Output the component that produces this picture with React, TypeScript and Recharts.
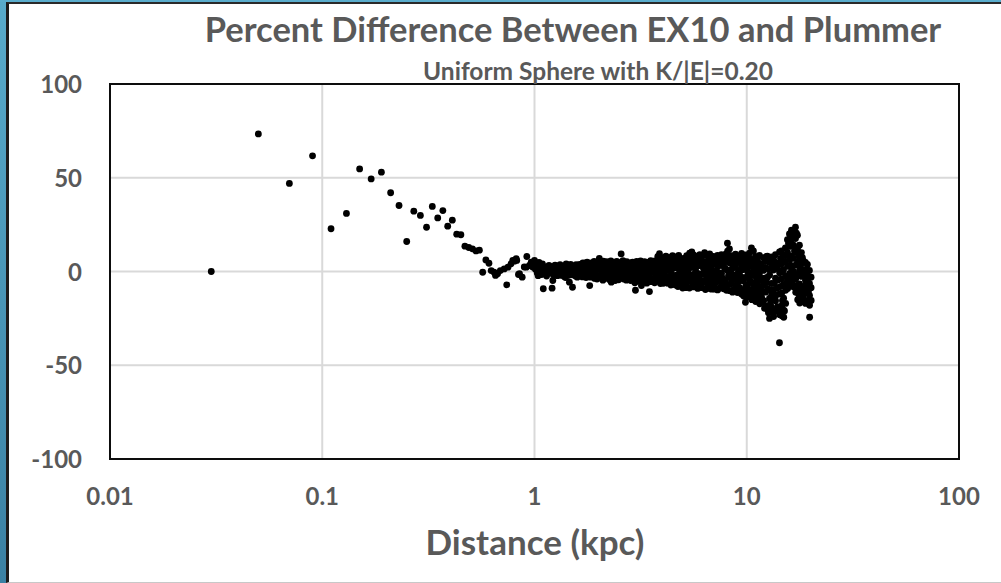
import React from 'react';
import {
  ScatterChart,
  Scatter,
  XAxis,
  YAxis,
  CartesianGrid,
  ReferenceArea,
} from 'recharts';

// distance (kpc), percent difference
const coreDots: [number, number][] = [
  [0.03, 0], [0.05, 73.4], [0.07, 47], [0.09, 61.7], [0.11, 22.8], [0.13, 31],
  [0.15, 54.7], [0.17, 49.4], [0.19, 53], [0.21, 42], [0.23, 35.2], [0.25, 16],
  [0.27, 32.2], [0.29, 29.9], [0.31, 23.6], [0.33, 34.7], [0.35, 28.6], [0.37, 32.5],
  [0.39, 24.2], [0.41, 27.4], [0.43, 19.9], [0.45, 19.6], [0.47, 13.5], [0.49, 12.8],
  [0.51, 12.1], [0.53, 11], [0.55, 11.4], [0.57, -0.4], [0.59, 6.2], [0.61, 4.4],
];

const transitionDots: [number, number][] = [
  [0.625, 0.5], [0.645, -0.4], [0.655, -2.1], [0.67, -1.2], [0.69, 0.5], [0.72, 1.4],
  [0.74, -7.1], [0.75, 2.3], [0.775, 4.1], [0.79, 5.9], [0.805, 5.5], [0.82, 6.8],
  [0.825, 5.9], [0.84, -1.6], [0.85, -1.2], [0.875, -3], [0.895, 2.4], [0.915, 2.3],
  [0.92, 8], [0.947, 3.2], [0.965, 5], [0.98, 2.4], [1.0, 5.9],
];

const innerBand: [number, number][] = [
  [1.01, 1.2], [1.03, -0.8], [1.05, 4.9], [1.07, 0.5], [1.09, 4.1], [1.1, -9.2],
  [1.12, -0.4], [1.13, 2.4], [1.15, 1.0], [1.17, 3.2], [1.19, -0.9], [1.21, -8.9],
  [1.22, -4.8], [1.24, 1.6], [1.26, -0.6], [1.27, 0.5], [1.29, 2.8], [1.31, -0.4],
  [1.33, -2.0], [1.35, 1.5], [1.36, -1.2], [1.38, -2.6], [1.41, 4.1], [1.42, 0.9],
  [1.44, 0.5], [1.46, -5.7], [1.47, 2.2], [1.49, -0.4], [1.51, -8.4], [1.52, -1.8],
  [1.54, 0.5], [1.56, -2.4], [1.58, 1.3], [1.6, 2.3], [1.62, -1.5], [1.64, 0.2],
  [1.66, 3.2], [1.68, -2.9], [1.7, 1.9], [1.72, 4.4], [1.74, -0.8], [1.76, 1.2],
  [1.78, 3.2], [1.8, -1.9], [1.82, -7.5], [1.84, 0.5], [1.86, 2.6], [1.88, -1.1],
  [1.9, 3.5], [1.92, -3.7], [1.94, 4.1], [1.96, 0.8], [1.98, -2.3], [2.0, 2.9],
  [1.02, 3.0], [1.04, -2.2], [1.06, 2.0], [1.08, -1.6], [1.11, 1.8], [1.14, -2.4],
  [1.16, -0.2], [1.18, 1.4], [1.2, 2.6], [1.23, -1.8], [1.25, 3.4], [1.28, -2.2],
  [1.3, 1.0], [1.32, 3.6], [1.34, -0.2], [1.37, 2.6], [1.39, 0.2], [1.4, -3.2],
  [1.43, 2.6], [1.45, -2.0], [1.48, 3.8], [1.5, 1.2], [1.53, 2.8], [1.55, -0.8],
  [1.57, 3.6], [1.59, -3.0], [1.61, 0.8], [1.63, 3.8], [1.65, -1.0], [1.67, 1.4],
  [1.69, 4.6], [1.71, -1.8], [1.73, 2.2], [1.75, -3.2], [1.77, 5.0], [1.79, 0.4],
  [1.81, 2.4], [1.83, -3.0], [1.85, 4.6], [1.87, -0.4], [1.89, 1.6], [1.91, 5.4],
  [1.93, -1.6], [1.95, 2.2], [1.97, -4.0], [1.99, 5.0],
];

const midBand: [number, number][] = [
  [2.02, 7.0], [2.03, 1.5], [2.04, -2.0], [2.07, 3.0], [2.08, -1.5], [2.11, 5.5],
  [2.12, 0.2], [2.16, -3.5], [2.17, 2.4], [2.21, 1.0], [2.22, 4.2], [2.26, -1.2],
  [2.3, -5.7], [2.31, 3.3], [2.32, 0.6], [2.36, -2.5], [2.37, 2.0], [2.41, 4.0],
  [2.42, -0.8], [2.46, 1.4], [2.47, -3.6], [2.51, 2.8], [2.56, 9.4], [2.57, -1.0],
  [2.58, 3.0], [2.62, 0.5], [2.63, -4.0], [2.68, 2.5], [2.69, -2.0], [2.74, 3.0],
  [2.75, 0.0], [2.8, -3.0], [2.81, 1.8], [2.86, 2.6], [2.87, -1.5], [2.93, 0.4],
  [2.99, -10.0], [3.0, 3.0], [3.01, -4.4], [3.06, 1.2], [3.07, -2.5], [3.12, 2.9],
  [3.13, 0.0], [3.19, -7.5], [3.2, -3.8], [3.21, 1.8], [3.26, 3.1], [3.27, -1.0],
  [3.33, 0.6], [3.34, -4.2], [3.41, 2.8], [3.42, -1.8], [3.48, -10.7], [3.49, 1.3],
  [3.5, -3.0], [3.56, 3.0], [3.57, -0.5], [3.64, -4.5], [3.65, 1.8], [3.72, 2.5],
  [3.73, -2.6], [3.8, -0.6], [3.81, 8.0], [3.88, 9.5], [3.89, 3.2], [3.97, -4.6],
  [3.98, 5.6], [3.99, 0.8], [4.05, -6.3], [4.06, 2.0], [4.07, 7.5], [4.14, -3.0],
  [4.15, 4.2], [4.16, 8.2],
  [2.05, 4.4], [2.06, -3.4], [2.09, 0.8], [2.1, -4.6], [2.14, 2.2], [2.15, -1.4],
  [2.19, 5.2], [2.2, -2.8], [2.24, 2.6], [2.25, -4.2], [2.28, 0.2], [2.29, 5.6],
  [2.34, -3.6], [2.35, 4.8], [2.39, 0.6], [2.4, -4.8], [2.44, 5.4], [2.45, -1.8],
  [2.49, -4.4], [2.5, 0.4], [2.54, 4.8], [2.55, -2.6], [2.6, 1.8], [2.61, 5.8],
  [2.65, -1.0], [2.66, 3.6], [2.71, -4.6], [2.72, 5.2], [2.77, 1.6], [2.78, -2.4],
  [2.83, 4.6], [2.84, -4.8], [2.9, 5.0], [2.91, -2.2], [2.96, 1.8], [2.97, -6.0],
  [3.03, 5.4], [3.04, -0.8], [3.09, 4.4], [3.1, -5.2], [3.16, 5.6], [3.17, -0.8],
  [3.23, -5.6], [3.24, 0.4], [3.3, 5.2], [3.31, -2.6], [3.37, 4.4], [3.38, -6.2],
  [3.45, 5.0], [3.46, -0.2], [3.53, 5.8], [3.54, -5.4], [3.6, 0.2], [3.61, 4.8],
  [3.68, -6.0], [3.69, 5.6], [3.76, 0.6], [3.77, -5.0], [3.84, 4.8], [3.85, -2.4],
  [3.92, -6.4], [3.93, 1.6], [4.01, 4.2], [4.02, -2.2], [4.1, 0.2], [4.11, 5.2],
  [4.19, -6.0], [4.2, 2.6],
];

const outerBand: [number, number][] = [
  [4.23, 6.4], [4.24, 0.5], [4.25, -6.2], [4.33, 3.0], [4.34, -3.5], [4.35, 7.5],
  [4.42, -1.2], [4.43, 5.0], [4.44, -6.8], [4.52, 1.8], [4.53, -4.0], [4.54, 6.6],
  [4.62, -7.2], [4.63, 2.4], [4.64, 7.8], [4.72, 4.0], [4.73, -2.2], [4.74, -8.0],
  [4.82, 6.8], [4.83, 0.0], [4.84, -5.3], [4.93, -3.0], [4.94, 3.6], [4.95, -7.8],
  [5.03, 7.0], [5.04, -0.8], [5.05, -6.0], [5.14, 2.5], [5.15, -8.6], [5.16, 5.2],
  [5.26, -3.8], [5.27, 6.8], [5.28, 0.4], [5.37, -8.8], [5.38, 9.8], [5.39, 2.0],
  [5.49, 4.5], [5.5, -5.5], [5.51, 10.4], [5.61, -1.6], [5.62, 8.8], [5.63, -8.2],
  [5.73, 6.0], [5.74, 0.8], [5.75, -6.4], [5.86, -3.2], [5.87, 8.2], [5.88, -9.0],
  [5.99, 3.2], [6.0, -7.0], [6.01, 9.0], [6.12, 7.5], [6.13, -1.5], [6.14, -8.6],
  [6.25, 1.8], [6.26, -5.0], [6.27, 8.8], [6.39, -9.6], [6.4, 5.2], [6.41, -2.0],
  [6.53, 8.6], [6.54, 0.2], [6.55, -7.4], [6.67, -4.6], [6.68, 3.6], [6.69, 9.4],
  [6.82, -9.4], [6.83, 6.8], [6.84, 1.0], [6.97, -2.8], [6.98, 8.0], [6.99, -7.6],
  [7.12, 4.8], [7.13, -6.0], [7.14, 0.0], [7.28, 8.6], [7.29, -9.8], [7.3, 2.6],
  [7.44, -3.6], [7.45, 6.0], [7.46, -8.8], [7.6, 9.0], [7.61, -1.0], [7.62, -6.8],
  [7.77, 3.8], [7.78, -9.2], [7.79, 7.6], [7.94, -4.4], [7.95, 1.4], [7.96, 9.2],
  [8.11, 15.1], [8.12, 10.8], [8.13, -7.2], [8.14, 0.6], [8.29, 12.0], [8.3, 4.6],
  [8.31, -3.2], [8.32, -10.2], [8.47, 8.4], [8.48, -6.0], [8.49, 1.2], [8.66, -9.8],
  [8.67, 6.2], [8.68, -1.8], [8.85, 9.2], [8.86, 2.2], [8.87, -7.4], [9.04, -11.2],
  [9.05, 4.8], [9.06, -3.0], [9.24, 8.4], [9.25, -0.6], [9.26, -8.6], [9.44, -12.0],
  [9.45, 3.0], [9.46, 9.6], [9.65, 6.6], [9.66, -5.0], [9.67, -13.0], [9.86, -16.4],
  [9.87, 1.8], [9.88, 8.8], [9.89, -8.0],
  [4.28, 3.4], [4.29, -2.8], [4.38, 1.2], [4.39, -7.2], [4.47, 8.4], [4.48, -2.4],
  [4.57, 4.0], [4.58, -5.6], [4.67, -2.0], [4.68, 5.0], [4.77, 1.8], [4.78, 8.6],
  [4.88, -4.8], [4.89, 5.6], [4.98, 1.0], [4.99, -8.8], [5.09, 4.8], [5.1, -3.6],
  [5.2, -6.4], [5.21, 8.4], [5.32, 3.8], [5.33, -1.8], [5.43, 7.0], [5.44, -3.4],
  [5.55, 2.4], [5.56, -7.4], [5.67, 4.2], [5.68, -4.0], [5.8, 2.8], [5.81, -7.2],
  [5.92, 5.4], [5.93, -1.2], [6.05, -4.6], [6.06, 6.4], [6.18, 3.8], [6.19, -6.0],
  [6.32, -0.4], [6.33, 10.0], [6.46, 3.2], [6.47, -5.2], [6.6, 6.0], [6.61, -9.0],
  [6.75, -1.6], [6.76, 5.0], [6.9, 3.6], [6.91, -5.6], [7.05, 7.4], [7.06, -9.4],
  [7.2, -3.0], [7.21, 4.2], [7.36, 6.4], [7.37, -0.6], [7.52, -5.4], [7.53, 3.4],
  [7.68, 6.4], [7.69, -3.6], [7.85, -7.2], [7.86, 1.8], [8.02, 5.4], [8.03, -10.0],
  [8.2, 7.6], [8.21, -2.0], [8.38, -6.8], [8.39, -0.8], [8.56, 4.6], [8.57, -11.0],
  [8.76, -4.2], [8.77, 3.2], [8.95, 7.2], [8.96, -9.6], [9.14, 0.2], [9.15, -5.6],
  [9.34, 5.8], [9.35, -10.8], [9.54, -3.2], [9.55, 1.0], [9.75, -10.4], [9.76, 4.8],
  [9.96, -12.6], [9.97, -3.0],
];

const edgeBand: [number, number][] = [
  [10.08, 7.0], [10.09, 0.0], [10.1, -7.0], [10.11, -13.6], [10.3, 9.8], [10.31, 3.0],
  [10.32, -4.2], [10.33, -11.6], [10.52, 12.6], [10.53, 5.4], [10.54, -2.0], [10.55, -9.5],
  [10.56, -15.0], [10.75, 11.0], [10.76, 1.2], [10.77, -6.6], [10.78, -13.8], [10.99, 8.0],
  [11.0, -0.8], [11.01, -9.6], [11.02, -16.0], [11.23, 6.2], [11.24, 2.6], [11.25, -5.4],
  [11.26, -12.8], [11.48, 8.6], [11.49, -2.4], [11.5, -10.6], [11.51, -17.2], [11.73, 4.0],
  [11.74, -4.6], [11.75, -13.8], [11.76, -8.0], [11.98, 7.4], [11.99, 0.6], [12.0, -7.0],
  [12.01, -15.6], [12.25, 2.2], [12.26, -11.0], [12.27, -18.4], [12.28, 5.6], [12.51, 8.2],
  [12.52, -3.0], [12.53, -9.0], [12.54, -20.2], [12.79, -14.4], [12.8, -25.0], [12.81, 4.8],
  [12.82, -1.8], [13.07, 7.8], [13.08, -6.4], [13.09, -12.6], [13.1, -19.0], [13.36, 0.8],
  [13.37, -9.8], [13.38, -24.0], [13.39, 6.2], [13.65, 9.0], [13.66, -3.6], [13.67, -15.6],
  [13.68, -21.2], [13.95, 4.4], [13.96, -8.6], [13.97, -18.8], [13.98, 1.6], [14.26, -38.0],
  [14.27, 10.4], [14.28, -0.6], [14.29, -12.0], [14.3, -23.0],
  [10.19, 4.0], [10.2, -10.0], [10.41, -1.0], [10.42, 6.6], [10.64, -13.0], [10.65, -6.0],
  [10.87, 4.4], [10.88, -11.2], [11.11, -3.6], [11.12, -14.2], [11.35, 4.4], [11.36, -8.6],
  [11.6, 0.4], [11.61, -15.6], [11.86, 1.6], [11.87, -11.0], [12.12, -3.6], [12.13, -19.6],
  [12.38, -5.8], [12.39, 8.0], [12.65, -22.0], [12.66, 1.4], [12.93, -10.0], [12.94, -16.8],
  [13.22, 3.6], [13.23, -21.6], [13.5, -6.4], [13.51, -15.0], [13.8, 2.0], [13.81, -12.4],
  [14.1, -4.4], [14.11, -20.6],
];

const spikeBand: [number, number][] = [
  [14.57, 11.0], [14.58, 4.0], [14.59, -4.0], [14.6, -11.6], [14.61, -18.4], [14.62, -23.6],
  [14.89, 8.6], [14.9, 1.0], [14.91, -7.0], [14.92, -14.2], [14.93, -20.6], [14.94, -24.4],
  [15.21, 12.6], [15.22, 5.4], [15.23, -2.4], [15.24, -10.0], [15.25, -17.0],
  [15.55, 17.0], [15.56, 10.2], [15.57, 2.8], [15.58, -4.6], [15.59, -9.0],
  [15.89, 20.0], [15.9, 13.4], [15.91, 6.4], [15.92, -1.0], [15.93, -7.2],
  [16.24, 22.0], [16.25, 15.0], [16.26, 8.2], [16.27, 1.4], [16.28, -5.8],
  [16.59, 21.6], [16.6, 14.0], [16.61, 7.0], [16.62, 0.0], [16.63, -8.2],
  [16.96, 23.6], [16.97, 17.6], [16.98, 10.4], [16.99, 3.4], [17.0, -4.0], [17.01, -11.0],
  [17.33, 19.4], [17.34, 12.0], [17.35, 5.0], [17.36, -2.2], [17.37, -9.4], [17.38, -15.0],
  [17.71, 14.0], [17.72, 7.6], [17.73, 0.6], [17.74, -6.6], [17.75, -13.6], [17.76, -16.8],
  [18.1, 10.0], [18.11, 4.4], [18.12, -2.6], [18.13, -9.8], [18.14, -16.0],
  [18.49, 5.6], [18.5, -1.0], [18.51, -8.0], [18.52, -14.6],
  [18.9, 4.8], [18.91, -4.6], [18.92, -11.6], [18.93, -17.0],
  [19.31, 3.8], [19.32, -2.0], [19.33, -9.2], [19.34, -15.6],
  [19.74, 0.6], [19.75, -6.4], [19.76, -12.8], [19.77, -18.0], [19.78, -24.4],
  [20.1, -3.0], [20.11, -8.6], [20.12, -15.4],
  [14.42, 7.0], [14.43, -8.0], [14.73, -15.6], [14.74, -0.2], [15.05, 5.2], [15.06, -21.0],
  [15.38, 8.6], [15.39, -6.2], [15.72, -2.4], [15.73, 15.0], [16.06, 17.6], [16.07, 3.4],
  [16.41, 19.0], [16.42, -3.0], [16.78, 11.0], [16.79, -1.6], [17.15, 20.4], [17.16, -7.4],
  [17.52, 9.0], [17.53, -12.0], [17.9, 2.4], [17.91, -10.0], [18.3, 7.4], [18.31, -12.8],
  [18.7, 1.0], [18.71, -15.6], [19.1, -6.0], [19.11, 0.8], [19.52, -3.6], [19.53, -10.6],
];

const xTicks = [0.01, 0.1, 1, 10, 100];
const yTicks = [-100, -50, 0, 50, 100];
const xTickLabels = ['0.01', '0.1', '1', '10', '100'];

const chartTitle = 'Percent Difference Between EX10 and Plummer';
const chartSubtitle = 'Uniform Sphere with K/|E|=0.20';
const xTitle = 'Distance (kpc)';

const data = [
  ...coreDots,
  ...transitionDots,
  ...innerBand,
  ...midBand,
  ...outerBand,
  ...edgeBand,
  ...spikeBand,
].map(([x, y]) => ({ x, y }));

const FONT = "Lato, 'Open Sans', sans-serif";
const GREY = '#595959';

const Dot = (props: any) => (
  <circle cx={props.cx} cy={props.cy} r={3.4} fill='#000' />
);

const YTick = (props: any) => (
  <text
    x={props.x - 28}
    y={props.y + 9}
    textAnchor='end'
    fontFamily={FONT}
    fontWeight={700}
    fontSize={24}
    fill={GREY}
  >
    {props.payload.value}
  </text>
);

const XTick = (props: any) => {
  const idx = xTicks.indexOf(props.payload.value);
  return (
    <text
      x={props.x}
      y={props.y + 46}
      textAnchor='middle'
      fontFamily={FONT}
      fontWeight={700}
      fontSize={24}
      fill={GREY}
    >
      {idx >= 0 ? xTickLabels[idx] : props.payload.value}
    </text>
  );
};

export default function App() {
  return (
    <div
      style={{
        position: 'absolute',
        left: 0,
        top: 0,
        width: 1001,
        height: 583,
        overflow: 'hidden',
        background: '#fff',
      }}
    >
      <div
        style={{
          position: 'absolute',
          left: 0,
          top: 0,
          width: 6,
          height: 583,
          background: 'linear-gradient(180deg, #58abcb 0%, #3b81a3 100%)',
        }}
      />
      <div
        style={{
          position: 'absolute',
          left: 0,
          top: 0,
          width: 1001,
          height: 2,
          background: '#5aadcd',
        }}
      />
      <div
        style={{
          position: 'absolute',
          left: 6,
          top: 2,
          width: 1000,
          height: 578,
          background: '#fff',
          borderLeft: '3px solid #1c1c1c',
          borderTop: '2px solid #2a2a2a',
          borderBottom: '1px solid #c8c8c8',
        }}
      />
      <div style={{ position: 'absolute', left: 0, top: 0 }}>
        <ScatterChart
          width={1001}
          height={583}
          margin={{ top: 84, right: 42, bottom: 0, left: 0 }}
        >
          <CartesianGrid stroke='#d9d9d9' strokeWidth={2} />
          <XAxis
            type='number'
            dataKey='x'
            scale='log'
            domain={[0.01, 100]}
            ticks={xTicks}
            allowDataOverflow
            height={124}
            tickSize={0}
            tickMargin={0}
            axisLine={false}
            tick={<XTick />}
            interval={0}
          />
          <YAxis
            type='number'
            dataKey='y'
            domain={[-100, 100]}
            ticks={yTicks}
            allowDataOverflow
            width={110}
            tickSize={0}
            tickMargin={0}
            axisLine={false}
            tick={<YTick />}
            interval={0}
          />
          <Scatter
            data={data}
            shape={<Dot />}
            isAnimationActive={false}
          />
          <ReferenceArea
            x1={0.01}
            x2={100}
            y1={-100}
            y2={100}
            fill='none'
            stroke='#0d0d0d'
            strokeWidth={2}
            ifOverflow='visible'
          />
        </ScatterChart>
      </div>
      <svg
        width={1001}
        height={583}
        style={{ position: 'absolute', left: 0, top: 0, pointerEvents: 'none' }}
      >
        <text x={573} y={42} textAnchor='middle' fontFamily={FONT} fontWeight={700} fontSize={34.5} fill={GREY}>
          {chartTitle}
        </text>
        <text x={598} y={80} textAnchor='middle' fontFamily={FONT} fontWeight={700} fontSize={24.5} fill={GREY}>
          {chartSubtitle}
        </text>
        <text x={535} y={555} textAnchor='middle' fontFamily={FONT} fontWeight={700} fontSize={35} fill={GREY}>
          {xTitle}
        </text>
      </svg>
    </div>
  );
}
